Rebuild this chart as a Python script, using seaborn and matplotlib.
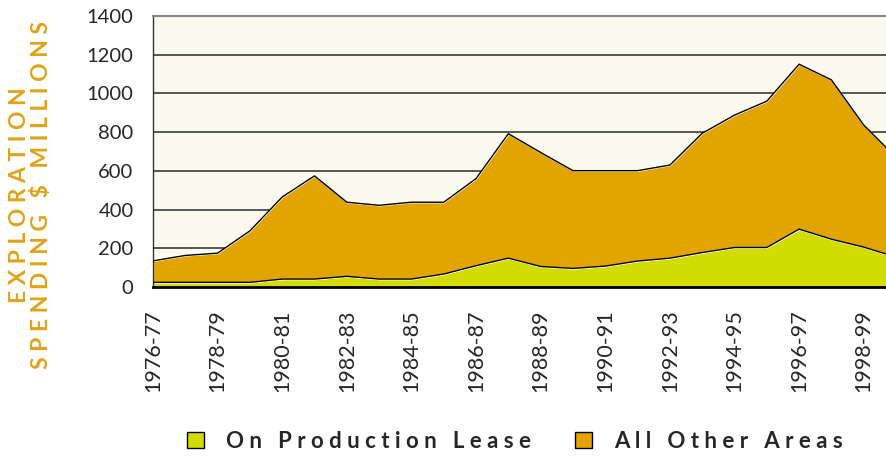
import seaborn as sns
import matplotlib.pyplot as plt
import pandas as pd

# financial years shown on the x axis
years = ['1976-77', '1977-78', '1978-79', '1979-80', '1980-81', '1981-82',
         '1982-83', '1983-84', '1984-85', '1985-86', '1986-87', '1987-88',
         '1988-89', '1989-90', '1990-91', '1991-92', '1992-93', '1993-94',
         '1994-95', '1995-96', '1996-97', '1997-98', '1998-99', '1999-00']

# spending in $ millions
production_lease = [24, 24, 24, 24, 41, 41, 55, 41, 41, 67, 110, 149,
                    106, 96, 108, 134, 149, 178, 204, 204, 299, 247, 206, 155]
other_areas = [111, 139, 151, 266, 424, 533, 383, 381, 397, 371, 450, 643,
               589, 505, 493, 467, 481, 616, 684, 756, 852, 823, 631, 515]

series_names = ['On Production Lease', 'All Other Areas']
y_title = ['EXPLORATION', 'SPENDING $ MILLIONS']

green = '#d3dc00'
orange = '#e1a400'


def spread(text, sep=' '):
    # poor man's letter spacing
    return sep.join(text)


sns.set_style('white')
plt.rcParams['font.family'] = ['Lato', 'DejaVu Sans']

df = pd.DataFrame({'year': years, 'lease': production_lease, 'other': other_areas})
df['idx'] = range(len(df))
df['total'] = df['lease'] + df['other']

fig = plt.figure(figsize=(8.87, 4.57), dpi=100)
ax = fig.add_axes([153 / 887, 170 / 457, 734 / 887, 271 / 457])
ax.set_facecolor('#fafaee')

ax.stackplot(df['idx'], df['lease'], df['other'], colors=[green, orange],
             labels=[spread(s) for s in series_names], zorder=2)
sns.lineplot(data=df, x='idx', y='lease', color='black', lw=1, ax=ax, zorder=3, legend=False)
sns.lineplot(data=df, x='idx', y='total', color='black', lw=1, ax=ax, zorder=3, legend=False)

ax.set_yticks(range(0, 1401, 200))
ax.set_xticks(df['idx'])
ax.set_xticklabels([y if i % 2 == 0 else '' for i, y in enumerate(years)],
                   rotation=90, fontsize=15.5)
ax.set_ylim(0, 1400)
ax.set_xlim(0, 22.72)
ax.tick_params(axis='y', labelsize=14.5, length=5, width=1, color='#333333', pad=9)
ax.tick_params(axis='x', length=5, width=1, color='#333333', pad=11)
ax.yaxis.grid(True, color='#3a3a3a', lw=1.2, zorder=0)
ax.set_axisbelow(True)
ax.set_xlabel('')
ax.set_ylabel('')
if ax.get_legend():
    ax.get_legend().remove()

ax.spines['right'].set_visible(False)
ax.spines['top'].set_color('#888888')
ax.spines['top'].set_linewidth(1.5)
ax.spines['left'].set_color('#333333')
ax.spines['left'].set_linewidth(1)
ax.spines['bottom'].set_color('black')
ax.spines['bottom'].set_linewidth(2)

fig.text(9 / 887, 1 - 195 / 457, '\n'.join(spread(s) for s in y_title),
         rotation=90, ha='left', va='center', multialignment='center', color='#e0a31a',
         fontsize=16.5, fontweight='bold', linespacing=1.05)

handles, labels = ax.get_legend_handles_labels()
leg = fig.legend(handles, labels, loc='center', bbox_to_anchor=(515 / 887, 16 / 457),
                 ncol=2, frameon=False, handlelength=0.75, handleheight=0.75,
                 handletextpad=1.0, columnspacing=2.0,
                 prop={'weight': 'bold', 'size': 16})
for h in leg.legend_handles:
    h.set_edgecolor('black')
    h.set_linewidth(1)

fig.savefig('out.png', dpi=100)
